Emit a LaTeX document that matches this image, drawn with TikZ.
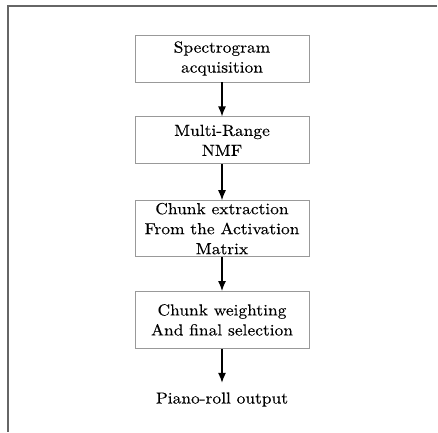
\documentclass[tikz,border=0pt]{standalone}
\usepackage{fontspec}
\usepackage{tikz}
\usetikzlibrary{arrows.meta, positioning}

\newfontfamily\stagefamily{lmroman10-regular.otf}[FakeStretch=1.09, FakeBold=0.2]
\newcommand{\stagefont}{\stagefamily\fontsize{16}{20}\selectfont}

\begin{document}
\begin{tikzpicture}[->,>={Latex[length=10pt,width=8pt]}, line width=1.2pt, node distance=34pt,
		stage/.style={draw=black!40, line width=0.8pt, align=center, minimum width=174pt, inner ysep=1pt,
			font=\stagefont},
		frameline/.style={-, draw=black!60, line width=1.5pt}]
		\useasboundingbox (0,0) rectangle (438pt,-432pt);
		\draw[frameline] (437pt,-6pt) -- (8pt,-6pt) -- (8pt,-432pt);
		\node[stage, minimum height=47pt]	(A)	at (222pt,-58.5pt)
			{Spectrogram\\ acquisition};
		\node[stage, minimum height=47pt]	(B)	[below=of A]
			{Multi-Range\\ NMF};
		\node[stage, minimum height=56pt]	(C)	[below=36pt of B]
			{Chunk extraction\\ From the Activation\\ Matrix};
		\node[stage, minimum height=57pt]	(D)	[below=of C]
			{Chunk weighting\\ And final selection};
		\node[font=\stagefont, inner ysep=9pt]	(E)	[below=of D]
			{Piano-roll output};
		\path	(A)	edge	(B)
				(B)	edge	(C)
				(C)	edge	(D)
				(D)	edge	(E);
	\end{tikzpicture}
\end{document}
